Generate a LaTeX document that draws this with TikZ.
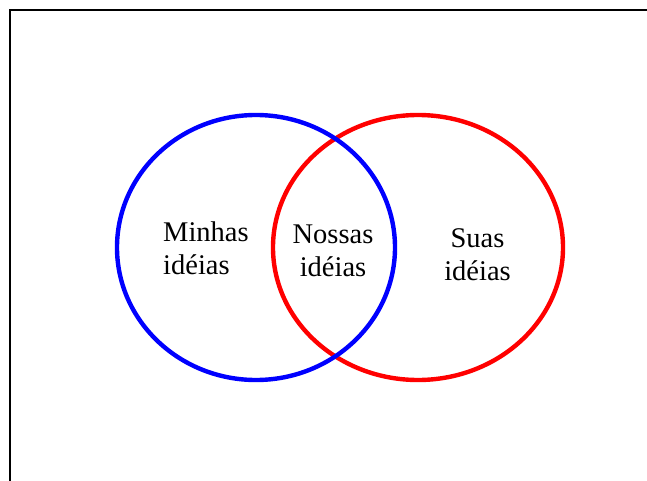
\documentclass[tikz,border=0pt]{standalone}
\usepackage{fontspec}
\setmainfont{Liberation Serif}
\usetikzlibrary{positioning}

\begin{document}
\begin{tikzpicture}[x=1pt,y=-1pt]
  \useasboundingbox (0,0) rectangle (647,481);
  \clip (0,0) rectangle (647,481);
  \draw[line width=2.2pt] (10,10) rectangle (700,540);
  \tikzstyle{SetStyle}=[line width=4.4pt]
  \tikzstyle{LabelStyle}=[inner sep=0pt,font=\fontsize{28.5}{33}\selectfont]
  \coordinate (mine) at (256,247.5);
  \coordinate (yours) at (418,247.5);
  \draw[SetStyle,red] (yours) ellipse (145 and 132.5);
  \draw[SetStyle,blue] (mine) ellipse (139 and 132.5);
  \node[LabelStyle,align=left,anchor=west] (minhas) at (163,248.5) {Minhas\\idéias};
  \node[LabelStyle,align=center] (nossas) at (333,250.5) {Nossas\\idéias};
  \node[LabelStyle,align=center] (suas) at (477.5,254.5) {Suas\\idéias};
\end{tikzpicture}
\end{document}
